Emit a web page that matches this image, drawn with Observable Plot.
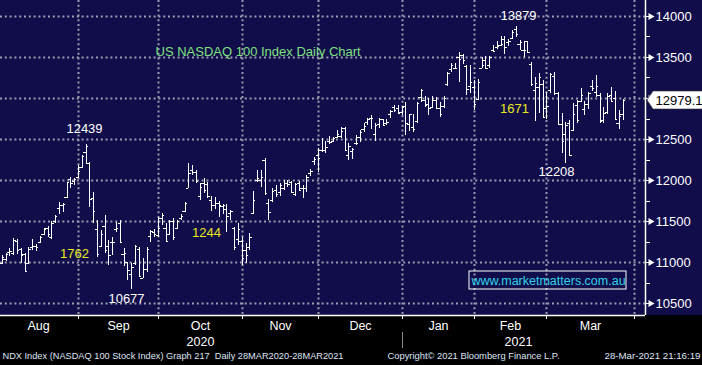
<!DOCTYPE html>
<html><head><meta charset="utf-8">
<script src="https://cdn.jsdelivr.net/npm/d3@7"></script>
<script src="https://cdn.jsdelivr.net/npm/@observablehq/plot@0.6"></script>
<style>
html,body{margin:0;padding:0;background:#000;overflow:hidden;}
#chart svg{display:block;}
</style></head><body><div id="chart"></div>
<script>
// ---- data (NDX daily OHLC, 31 Jul 2020 .. 26 Mar 2021) ----
const openP = [
10900,10990,11040,11120,11110,11260,11160,11100,10990,11180,
11200,11240,11340,11410,11300,11500,11660,11700,11790,12010,
11990,12040,12160,12340,12210,11780,11400,11200,11440,11200,
11250,11400,11480,11100,11000,10850,10990,11160,10810,10920,
11320,11370,11330,11540,11420,11340,11500,11420,11540,11620,
11900,12120,12100,11800,11960,11950,11760,11700,11720,11680,
11650,11600,11410,11280,11260,11150,11180,11600,12000,12000,
12250,11720,11760,11880,11850,11900,11960,11980,11830,11960,
11900,11900,12080,12230,12300,12370,12360,12470,12480,12530,
12540,12640,12300,12350,12450,12520,12620,12710,12760,12560,
12680,12740,12690,12800,12890,12880,12830,12900,12680,12650,
12720,13010,12980,12930,12890,12980,12880,12900,13170,13350,
13370,13500,13520,13390,13150,13130,12990,13370,13460,13400,
13580,13620,13650,13720,13680,13730,13840,13660,13590,13690,
13420,13100,13140,13170,12880,13100,13270,13060,12680,12560,
12700,12610,12910,12960,12870,12930,13150,13070,13040,12730,
12830,13040,13000,12700,12800];
const highP = [
10960,11090,11110,11165,11290,11285,11175,11110,11180,11280,
11225,11320,11420,11440,11500,11575,11730,11720,11980,12040,
12030,12180,12300,12439,12220,11850,11510,11390,11570,11270,
11300,11490,11510,11170,11000,10990,11210,11180,11050,11180,
11390,11400,11550,11600,11480,11510,11540,11510,11590,11730,
12210,12180,12120,11960,12020,11975,11800,11790,11740,11710,
11710,11630,11430,11480,11300,11230,11350,11860,12120,12120,
12270,11770,11900,11940,11960,12000,12000,11990,11960,11990,
11940,12060,12130,12280,12390,12510,12475,12535,12525,12610,
12650,12650,12450,12390,12550,12610,12695,12755,12795,12695,
12760,12740,12740,12855,12915,12910,12900,12950,12805,12805,
12950,13110,13025,13000,13025,13010,12950,13025,13320,13430,
13430,13560,13540,13400,13400,13220,13230,13500,13510,13510,
13645,13700,13750,13750,13725,13830,13879,13710,13700,13690,
13440,13255,13305,13225,13070,13305,13320,13075,12820,12710,
12730,12940,12970,13120,12960,13070,13220,13280,13060,12890,
13060,13130,13080,12855,12990];
const lowP = [
10790,10980,11010,11070,11080,11100,10990,10880,10975,11150,
11140,11230,11330,11300,11280,11480,11580,11610,11780,11900,
11945,12020,12150,12190,11670,11480,11060,11180,11110,10960,
11085,11370,11240,10950,10780,10677,10960,10820,10800,10880,
11245,11300,11300,11450,11245,11330,11270,11400,11510,11610,
11900,12060,11960,11760,11840,11780,11620,11650,11550,11585,
11365,11510,11150,11210,10960,10990,11150,11585,11975,11915,
11820,11510,11730,11790,11810,11880,11920,11840,11810,11870,
11780,11850,12050,12180,12100,12340,12330,12440,12465,12510,
12510,12365,12245,12255,12425,12460,12585,12670,12620,12475,
12640,12660,12670,12755,12830,12820,12790,12550,12600,12585,
12700,12950,12890,12790,12880,12860,12770,12880,13145,13320,
13350,13195,13420,13035,13060,12855,12980,13365,13350,13360,
13560,13600,13640,13540,13640,13720,13740,13590,13500,13555,
13150,12720,12815,12760,12740,13060,13040,12670,12330,12208,
12290,12600,12700,12950,12790,12870,13090,13010,12700,12700,
12810,12950,12730,12620,12730];
const closeP = [
10930,11060,11095,11140,11270,11150,11080,10890,11160,11200,
11185,11310,11400,11340,11480,11560,11700,11710,11970,11960,
12010,12110,12290,12420,11770,11620,11100,11340,11150,11090,
11240,11420,11250,11110,10900,10940,11190,10830,10920,11160,
11380,11340,11420,11570,11260,11500,11300,11500,11560,11720,
12090,12100,11990,11920,11880,11800,11700,11720,11700,11690,
11560,11620,11180,11400,11050,11090,11300,11760,12020,12040,
11840,11610,11860,11830,11940,11960,11950,11850,11950,11880,
11900,12040,12110,12260,12270,12370,12400,12460,12510,12560,
12600,12370,12420,12380,12450,12590,12660,12740,12760,12670,
12750,12670,12710,12840,12850,12820,12890,12690,12800,12620,
12940,13100,12910,12880,12970,12880,12800,13000,13300,13400,
13370,13480,13460,13110,13190,12925,13200,13400,13360,13500,
13570,13630,13660,13620,13690,13810,13780,13680,13590,13560,
13170,13180,13250,12770,12900,13290,13060,12680,12480,12670,
12300,12800,12730,13040,12930,13060,13120,13150,12720,12820,
13030,12960,12740,12780,12979.12];

const yTicks = [10500, 11000, 11500, 12000, 12500, 13000, 13500, 14000];
const yMinorTicks = [10750, 11250, 11750, 12250, 12750, 13250, 13750];
const monthNames = ["Aug", "Sep", "Oct", "Nov", "Dec", "Jan", "Feb", "Mar"];
const yearNames = ["2020", "2021"];
const holidays = ["2020-09-07", "2020-11-26", "2020-12-25", "2021-01-01", "2021-01-18", "2021-02-15"];
const extremeLabels = ["12439", "10677", "13879", "12208"];
const rangeLabels = ["1762", "1244", "1671"];
const titleText = "US NASDAQ 100 Index Daily Chart";
const siteText = "www.marketmatters.com.au";
const footerLeft = "NDX Index (NASDAQ 100 Stock Index) Graph 217  Daily 28MAR2020-28MAR2021";
const footerMid = "Copyright\u00A9 2021 Bloomberg Finance L.P.";
const footerRight = "28-Mar-2021 21:16:19";

// ---- trading-day calendar ----
const dates = [];
for (let t = Date.UTC(2020, 6, 31); t <= Date.UTC(2021, 2, 31); t += 864e5) {
  const d = new Date(t), wd = d.getUTCDay(), s = d.toISOString().slice(0, 10);
  if (wd > 0 && wd < 6 && !holidays.includes(s)) dates.push(s);
}
const bars = closeP.map((c, i) => ({i, date: dates[i], open: openP[i], high: highP[i], low: lowP[i], close: c}));
const monthEnds = [];
dates.forEach((s, i) => { if (i === dates.length - 1 || dates[i + 1].slice(0, 7) !== s.slice(0, 7)) monthEnds.push(i); });
const months = monthNames.map((m, k) => ({name: m, x: (monthEnds[k] + monthEnds[k + 1]) / 2}));
const yearEnd = monthEnds[5];
const years = [
  {name: yearNames[0], x: (monthEnds[0] + yearEnd) / 2},
  {name: yearNames[1], x: (yearEnd + monthEnds[8]) / 2}
];

const xDom = [0.525, 169.9];
const yDom = [10354, 14195];
const xMax = xDom[1], yMin = yDom[0];
const u = (yDom[1] - yDom[0]) / 315; // value units per pixel
const lastClose = closeP[closeP.length - 1];
// the last-price tag hides the tick label it sits on
const shownTickLabels = yTicks.filter(v => Math.abs(v - lastClose) > 14 * u);

const extremes = [
  {t: extremeLabels[0], x: 22.6, y: 12640},
  {t: extremeLabels[1], x: 33.6, y: 10561},
  {t: extremeLabels[2], x: 136.6, y: 14018},
  {t: extremeLabels[3], x: 146.5, y: 12104}
];
const ranges = [
  {t: rangeLabels[0], x: 19.9, y: 11104},
  {t: rangeLabels[1], x: 54.6, y: 11360},
  {t: rangeLabels[2], x: 135.6, y: 12884}
];

const navy = "#110d4b";
const grid = {stroke: "#9c9cae", strokeWidth: 2, strokeDasharray: "2,2.8"};
const footFont = "'Liberation Sans Narrow', 'Liberation Sans', Arial, sans-serif";

const chart = Plot.plot({
  width: 702, height: 365,
  marginLeft: 0, marginRight: 57, marginTop: 0, marginBottom: 50,
  style: {background: `linear-gradient(${navy} 0px, ${navy} 315px, #000 315px)`, color: "white",
          fontFamily: "'Liberation Sans', Arial, sans-serif", fontSize: "13px"},
  x: {domain: xDom, axis: null, round: true},
  y: {domain: yDom, axis: null, round: true},
  marks: [
    Plot.ruleY(yTicks, {y: d => d, ...grid}),
    Plot.ruleX(monthEnds.slice(1), {x: d => d, ...grid}),
    // OHLC bars
    Plot.ruleX(bars, {x: "i", y1: "low", y2: "high", stroke: "white", strokeWidth: 1}),
    Plot.ruleY(bars, {y: "open", x1: d => d.i - 0.6, x2: "i", stroke: "white", strokeWidth: 1}),
    Plot.ruleY(bars, {y: "close", x1: "i", x2: d => d.i + 0.6, stroke: "white", strokeWidth: 1}),
    // frame lines
    Plot.ruleX([xMax], {stroke: "white", strokeWidth: 1.5}),
    Plot.ruleY([yMin], {stroke: "white", strokeWidth: 1.5}),
    // right axis
    Plot.ruleY(yMinorTicks, {y: d => d, x1: xMax, x2: xMax + 1.3, stroke: "white"}),
    Plot.ruleY(yTicks, {y: d => d, x1: xMax, x2: xMax + 1.5, stroke: "white"}),
    Plot.dot(yTicks, {y: d => d, frameAnchor: "right", dx: 5, symbol: "triangle", rotate: 90, r: 2.6, fill: "white", stroke: null}),
    Plot.text(shownTickLabels, {y: d => d, frameAnchor: "right", dx: 10, text: d => String(d), textAnchor: "start", fill: "white", fontSize: 13}),
    // last price tag
    Plot.areaY([
      {x: xMax + 0.45, lo: lastClose, hi: lastClose},
      {x: xMax + 2.1, lo: lastClose - 9 * u, hi: lastClose + 9 * u},
      {x: xMax + 16, lo: lastClose - 9 * u, hi: lastClose + 9 * u}
    ], {x: "x", y1: "lo", y2: "hi", fill: "white", stroke: "#333", strokeWidth: 0.6, curve: "linear"}),
    Plot.text([lastClose], {y: d => d, frameAnchor: "right", dx: 10, text: d => d.toFixed(2), textAnchor: "start", fill: "black", fontSize: 13}),
    // bottom axis
    Plot.ruleX(monthEnds.slice(1), {x: d => d, y1: yMin, y2: yMin - 4 * u, stroke: "white"}),
    Plot.ruleX([yearEnd], {y1: yMin - 17 * u, y2: yMin - 33 * u, stroke: "#8a8a8a"}),
    Plot.text(months, {x: "x", y: yMin, dy: 10, text: "name", fill: "white", fontSize: 12.5}),
    Plot.text(years, {x: "x", y: yMin, dy: 26, text: "name", fill: "white", fontSize: 12.5}),
    // annotations
    Plot.text([titleText], {x: 41.2, y: 13573, text: d => d, textAnchor: "start", fill: "#7fe07f", fontSize: 13}),
    Plot.text(extremes, {x: "x", y: "y", text: "t", fill: "white", fontSize: 13}),
    Plot.text(ranges, {x: "x", y: "y", text: "t", fill: "#e8e81c", fontSize: 13}),
    Plot.rect([siteText], {x1: 123.7, x2: 164.9, y1: 10671, y2: 10890, fill: "none", stroke: "white", strokeWidth: 1}),
    Plot.text([siteText], {x: 144.3, y: 10781, text: d => d, fill: "#2fd3ea", fontSize: 12.5}),
    // footer
    Plot.text([footerLeft], {frameAnchor: "bottom-left", dx: 2, dy: 43, text: d => d, textAnchor: "start", fill: "#dfe6f4", fontSize: 9.5, fontFamily: footFont}),
    Plot.text([footerMid], {frameAnchor: "bottom-left", dx: 387, dy: 43, text: d => d, textAnchor: "start", fill: "#dfe6f4", fontSize: 9.5, fontFamily: footFont}),
    Plot.text([footerRight], {frameAnchor: "bottom-right", dx: 55, dy: 43, text: d => d, textAnchor: "end", fill: "#dfe6f4", fontSize: 9.5, fontFamily: footFont})
  ]
});

// fit the narrow Bloomberg footer font widths
const fit = {[footerLeft]: 341, [footerMid]: 172, [footerRight]: 96};
d3.select(chart).selectAll("text").each(function () {
  const t = this.textContent;
  if (fit[t]) d3.select(this).attr("textLength", fit[t]).attr("lengthAdjust", "spacingAndGlyphs");
});
document.getElementById("chart").appendChild(chart);
</script>
</body></html>
